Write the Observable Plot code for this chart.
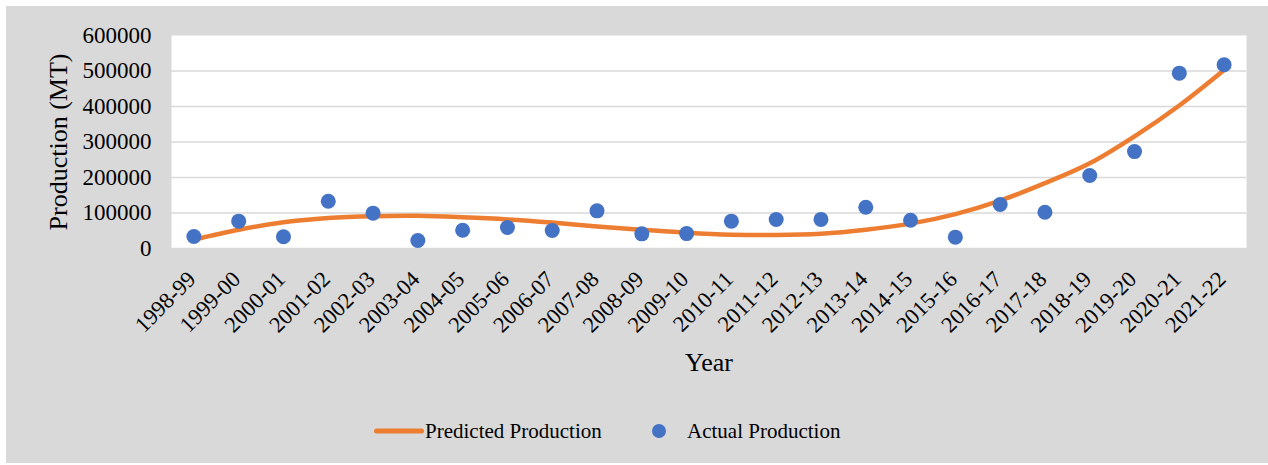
<!DOCTYPE html>
<html>
<head>
<meta charset="utf-8">
<script src="https://cdn.jsdelivr.net/npm/d3@7"></script>
<script src="https://cdn.jsdelivr.net/npm/@observablehq/plot@0.6"></script>
<style>
  html, body { margin: 0; padding: 0; background: #ffffff; }
  #wrap { position: absolute; left: 6px; top: 6px; width: 1262px; height: 457px; background: #d9d9d9; font-family: 'Liberation Serif', 'Times New Roman', serif; }
  #chart { position: absolute; left: 0; top: 0; }
  #chart svg, #chart svg text { font-family: 'Liberation Serif', 'Times New Roman', serif !important; }
  #legend { position: absolute; left: 0; top: 412px; width: 1262px; height: 26px; font-size: 21px; color: #000; font-family: 'Liberation Serif', 'Times New Roman', serif; }
  .item { position: absolute; top: 0; display: flex; align-items: center; height: 26px; white-space: nowrap; }
</style>
</head>
<body>
<div id="wrap">
  <div id="chart"></div>
  <div id="legend">
    <div class="item" style="left:368px;">
      <svg width="50" height="26"><line x1="2.5" y1="13" x2="47.5" y2="13" stroke="#ed7d31" stroke-width="5" stroke-linecap="round"/></svg>
      <span style="margin-left:1px">Predicted Production</span>
    </div>
    <div class="item" style="left:645px;">
      <svg width="28" height="26"><circle cx="8" cy="13" r="7" fill="#4472c4"/></svg>
      <span style="margin-left:8px">Actual Production</span>
    </div>
  </div>
</div>
<script>
const years = ["1998-99","1999-00","2000-01","2001-02","2002-03","2003-04","2004-05","2005-06","2006-07","2007-08","2008-09","2009-10","2010-11","2011-12","2012-13","2013-14","2014-15","2015-16","2016-17","2017-18","2018-19","2019-20","2020-21","2021-22"];
const actual = [34000,77000,33000,133000,99500,22500,51600,59000,50700,106000,41300,42000,77000,81700,82000,116000,79700,32000,124000,102000,205600,273000,494000,517500];
const predicted = [25000,52700,74000,86000,91000,92000,88000,82000,73000,62000,53000,44500,39000,38000,41500,52700,70000,97000,135000,184000,240000,316000,403000,503000];
const yTicks = [0,100000,200000,300000,400000,500000,600000];

const data = years.map((y, i) => ({year: y, actual: actual[i], predicted: predicted[i]}));
const font = "'Liberation Serif', 'Times New Roman', serif";

const chart = Plot.plot({
  width: 1262,
  height: 380,
  marginLeft: 165,
  marginRight: 22,
  marginTop: 29,
  marginBottom: 138,
  style: { background: "transparent", fontFamily: font, fontSize: "22px", color: "#000" },
  x: { type: "band", domain: years, padding: 0, round: false },
  y: { domain: [0, 600000] },
  marks: [
    Plot.frame({ fill: "#ffffff", stroke: null }),
    Plot.ruleY(yTicks.slice(1, -1), { stroke: "#d9d9d9", strokeWidth: 1.5 }),
    Plot.ruleY([0], { stroke: "#d9d9d9", strokeWidth: 1.5 }),
    Plot.axisY({ ticks: yTicks, tickSize: 0, tickPadding: 20, tickFormat: d => String(d), label: null, fontSize: 23 }),
    Plot.axisX({ tickSize: 0, tickRotate: -45, tickPadding: 14, dy: 13, dx: -2, label: null, fontSize: 22.5 }),
    Plot.line(data, { x: "year", y: "predicted", stroke: "#ed7d31", strokeWidth: 4.5, curve: "catmull-rom", strokeLinecap: "round" }),
    Plot.dot(data, { x: "year", y: "actual", r: 7.5, fill: "#4472c4", stroke: null }),
    Plot.text(["Production (MT)"], { frameAnchor: "left", dx: -113, rotate: -90, textAnchor: "middle", fontSize: 26, fill: "#000" }),
    Plot.text(["Year"], { frameAnchor: "bottom", dy: 122, fontSize: 26, fill: "#000" })
  ]
});
document.getElementById("chart").appendChild(chart);
</script>
</body>
</html>
